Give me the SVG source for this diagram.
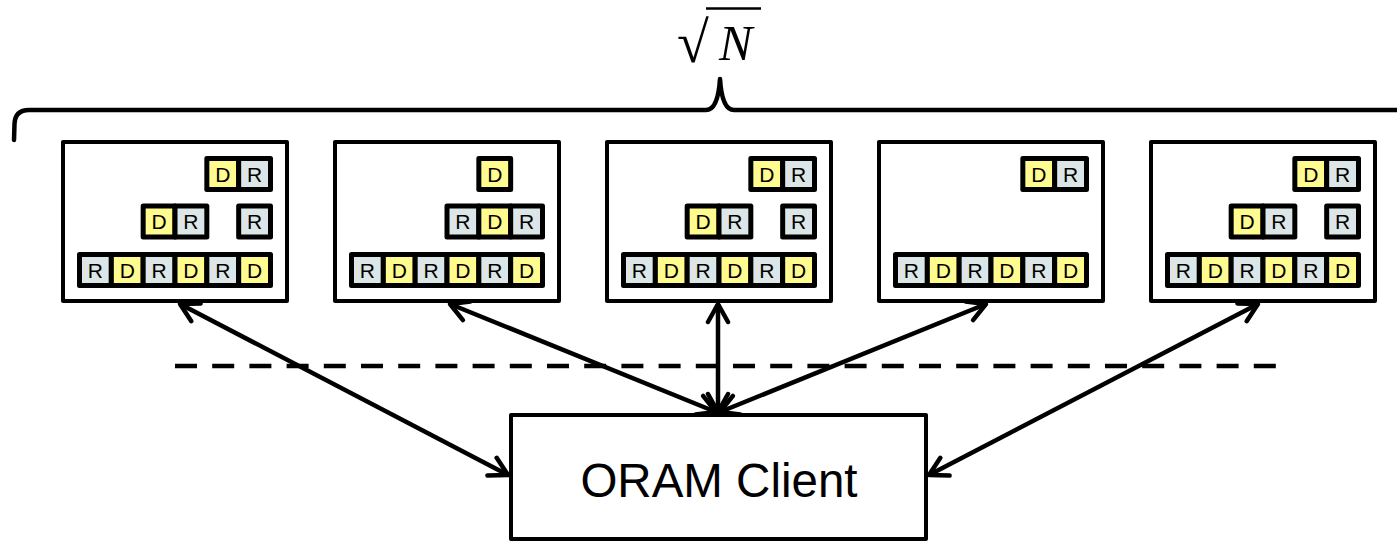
<svg xmlns="http://www.w3.org/2000/svg" xmlns:xlink="http://www.w3.org/1999/xlink" width="1397" height="543" viewBox="0 0 1397 543">
  <style>
    .frame { fill: #fff; stroke: #000; stroke-width: 4; stroke-linejoin: round; }
    .cell { stroke: #000; stroke-width: 5; stroke-linejoin: round; }
    .d { fill: #FFFB8F; }
    .r { fill: #DCE6E6; }
    .lbl { font-family: "Liberation Sans", Arial, sans-serif; font-size: 21px; text-anchor: middle; fill: #000; }
    .conn { stroke: #000; stroke-width: 4.5; fill: none; marker-start: url(#head); marker-end: url(#head); }
  </style>
  <defs>
    <marker id="head" viewBox="0 0 26 26" refX="23" refY="13" markerWidth="26" markerHeight="26" markerUnits="userSpaceOnUse" orient="auto-start-reverse">
      <path d="M5,3 L23,13 L5,23" fill="none" stroke="#000" stroke-width="4.5" stroke-linecap="round" stroke-linejoin="round"/>
    </marker>
    <g id="cD"><rect class="cell d" x="0" y="0" width="31.83" height="31"/><text class="lbl" x="15.9" y="23">D</text></g>
    <g id="cR"><rect class="cell r" x="0" y="0" width="31.83" height="31"/><text class="lbl" x="15.9" y="23">R</text></g>
    <!-- bottom level: six slots -->
    <g id="level3">
      <use xlink:href="#cR" x="16.5" y="112.5"/>
      <use xlink:href="#cD" x="48.33" y="112.5"/>
      <use xlink:href="#cR" x="80.17" y="112.5"/>
      <use xlink:href="#cD" x="112" y="112.5"/>
      <use xlink:href="#cR" x="143.83" y="112.5"/>
      <use xlink:href="#cD" x="175.67" y="112.5"/>
    </g>
    <!-- full partition layout -->
    <g id="partA">
      <rect class="frame" x="0" y="0" width="224" height="159"/>
      <use xlink:href="#cD" x="143.83" y="16.5"/>
      <use xlink:href="#cR" x="175.67" y="16.5"/>
      <use xlink:href="#cD" x="80.17" y="64"/>
      <use xlink:href="#cR" x="112" y="64"/>
      <use xlink:href="#cR" x="175.67" y="64"/>
      <use xlink:href="#level3"/>
    </g>
  </defs>

  <rect width="1397" height="543" fill="#fff"/>

  <!-- brace spanning all partitions -->
  <g id="brace">
    <path d="M14,140 L14.5,124 Q15,110 29,110 L706,110 Q718,110 720,79 Q722,110 734,110 L1420,110 Q1426,110 1426,124" fill="none" stroke="#000" stroke-width="4.5" stroke-linejoin="round" stroke-linecap="round"/>
  </g>
  <g id="label-sqrtN" font-family="'Liberation Serif', 'Times New Roman', serif" fill="#000">
    <text x="677" y="62" font-size="58">√</text>
    <line x1="706" y1="8.5" x2="761" y2="8.5" stroke="#000" stroke-width="2.5"/>
    <text x="719" y="60" font-size="50" font-style="italic">N</text>
  </g>

  <!-- server partitions -->
  <g id="partition1" transform="translate(63,142)">
    <use xlink:href="#partA"/>
  </g>
  <g id="partition2" transform="translate(335,142)">
    <rect class="frame" x="0" y="0" width="224" height="159"/>
    <use xlink:href="#cD" x="143.83" y="16.5"/>
    <use xlink:href="#cR" x="112" y="64"/>
    <use xlink:href="#cD" x="143.83" y="64"/>
    <use xlink:href="#cR" x="175.67" y="64"/>
    <use xlink:href="#level3"/>
  </g>
  <g id="partition3" transform="translate(607,142)">
    <use xlink:href="#partA"/>
  </g>
  <g id="partition4" transform="translate(879,142)">
    <rect class="frame" x="0" y="0" width="224" height="159"/>
    <use xlink:href="#cD" x="143.83" y="16.5"/>
    <use xlink:href="#cR" x="175.67" y="16.5"/>
    <use xlink:href="#level3"/>
  </g>
  <g id="partition5" transform="translate(1151,142)">
    <use xlink:href="#partA"/>
  </g>

  <!-- trust boundary -->
  <line id="boundary" x1="175" y1="366" x2="1282" y2="366" stroke="#000" stroke-width="4.5" stroke-dasharray="22 15.2"/>

  <!-- client -->
  <g id="client">
    <rect class="frame" x="511" y="415" width="415" height="124"/>
    <text x="719" y="497" font-family="'Liberation Sans', Arial, sans-serif" font-size="47.5" text-anchor="middle" fill="#000">ORAM Client</text>
  </g>

  <!-- client to partition links -->
  <g id="connectors">
    <line class="conn" x1="180" y1="304" x2="508" y2="475"/>
    <line class="conn" x1="450" y1="304" x2="716" y2="412"/>
    <line class="conn" x1="718" y1="304" x2="718" y2="412"/>
    <line class="conn" x1="986" y1="304" x2="720" y2="412"/>
    <line class="conn" x1="1258" y1="304" x2="929" y2="475"/>
  </g>
</svg>
